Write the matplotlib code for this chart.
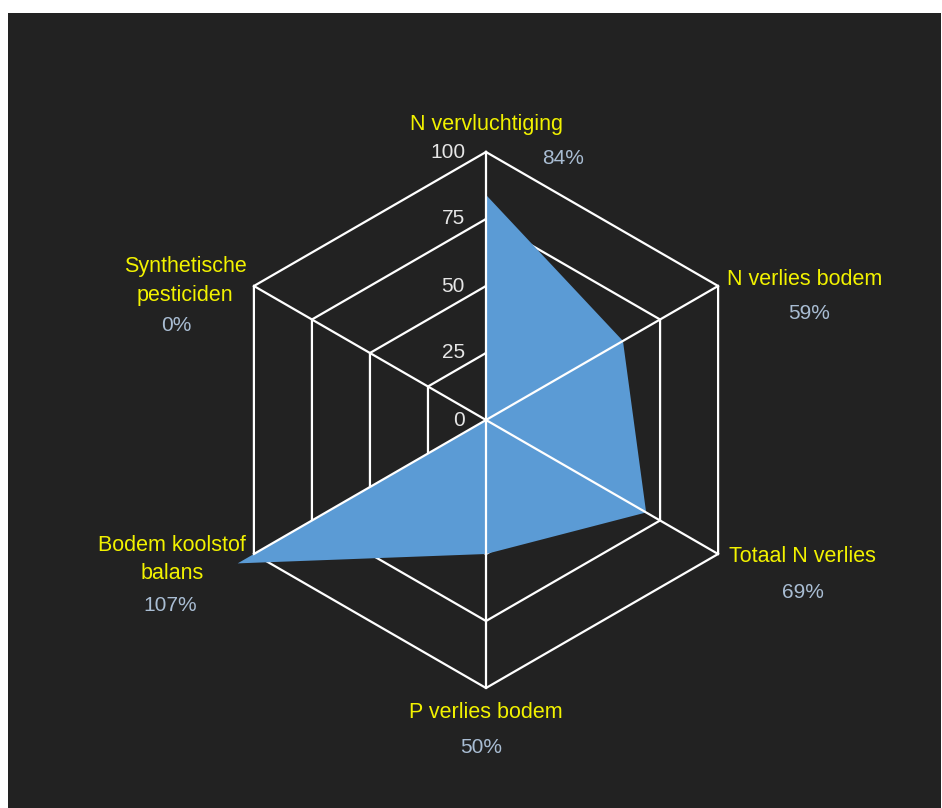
import numpy as np
import matplotlib
matplotlib.use("Agg")
import matplotlib.pyplot as plt
from matplotlib.transforms import offset_copy

categories = ["N vervluchtiging", "N verlies bodem", "Totaal N verlies",
              "P verlies bodem", "Bodem koolstof\nbalans", "Synthetische\npesticiden"]
values = [84, 59, 69, 50, 107, 0]
value_labels = ["84%", "59%", "69%", "50%", "107%", "0%"]
grid_levels = [25, 50, 75, 100]
tick_labels = ["0", "25", "50", "75", "100"]
tick_values = [0, 25, 50, 75, 100]

# label placement (polar: angle in degrees clockwise from top, radius in data units)
cat_pos = [(0, 110.4), (66.2, 130.1), (113.4, 128.5), (180, 109.3), (246.0, 128.3), (294.8, 123.7)]
val_pos = [(16.4, 101.9), (71.7, 127.0), (118.5, 134.6), (180.9, 122.4), (239.6, 136.6), (286.9, 120.9)]

W, H = 942, 808
fig = plt.figure(figsize=(W / 100, H / 100), dpi=100, facecolor="white")

bg = fig.add_axes([8 / W, 0, 933 / W, 795 / H])
bg.set_facecolor("#222222")
bg.set_xticks([]); bg.set_yticks([])
for s in bg.spines.values():
    s.set_visible(False)

cx, cy, R = 486, H - 420, 268
ax = fig.add_axes([(cx - R) / W, (cy - R) / H, 2 * R / W, 2 * R / H], projection="polar")
ax.patch.set_alpha(0)
ax.set_theta_offset(np.pi / 2)
ax.set_theta_direction(-1)
ax.set_ylim(0, 100)
ax.grid(False)
ax.spines["polar"].set_visible(False)
ax.set_xticks([]); ax.set_yticks([])

n = len(categories)
angles = np.arange(n) * 2 * np.pi / n

# data polygon
th = np.append(angles, angles[0])
vv = np.append(values, values[0])
ax.fill(th, vv, color="#5b9bd5", lw=0, clip_on=False, zorder=2)

# hexagonal grid rings (below fill) and spokes (above fill)
for g in grid_levels:
    ax.plot(th, [g] * (n + 1), color="white", lw=1.6, zorder=1, clip_on=False)
for a in angles:
    ax.plot([a, a], [0, 100], color="white", lw=1.6, zorder=3, clip_on=False)

# radial tick labels
tr = offset_copy(ax.transData, fig=fig, x=-21, y=0, units="dots")
for v, t in zip(tick_values, tick_labels):
    ax.text(0, v, t, transform=tr, ha="right", va="center", color="#e6e6e6",
            fontsize=15, family="Liberation Sans", zorder=4)

for lab, (a, r) in zip(categories, cat_pos):
    ax.text(np.deg2rad(a), r, lab, ha="center", va="center", color="#f2f200",
            fontsize=15.5, family="Liberation Sans", linespacing=1.45, clip_on=False)
for lab, (a, r) in zip(value_labels, val_pos):
    ax.text(np.deg2rad(a), r, lab, ha="center", va="center", color="#a9bdd3",
            fontsize=15, family="Liberation Sans", clip_on=False)

fig.savefig("out.png", dpi=100, facecolor="white")
